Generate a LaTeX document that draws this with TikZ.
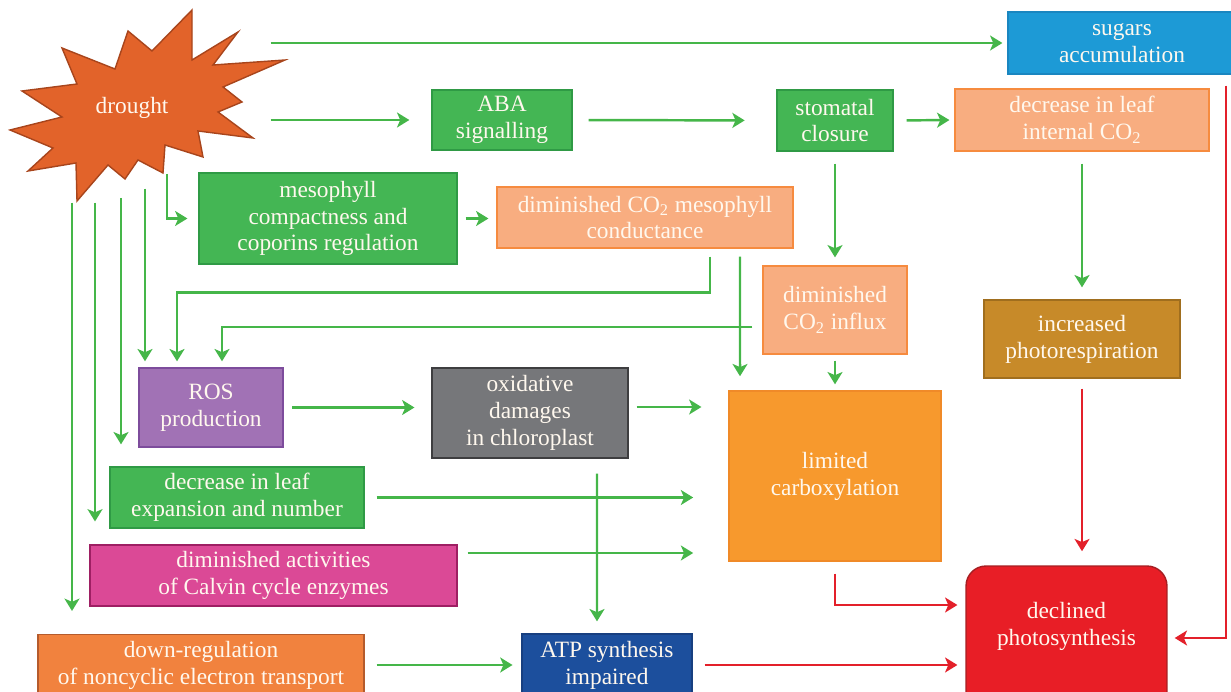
\documentclass[tikz,border=0pt]{standalone}
\usepackage{fontspec}
\setmainfont{Liberation Serif}
\usetikzlibrary{arrows.meta}

\definecolor{arrowgreen}{HTML}{45B649}
\definecolor{arrowred}{HTML}{E3202A}
\definecolor{leafgreen}{HTML}{44B654}
\definecolor{leafrim}{HTML}{2F9A45}
\definecolor{salmon}{HTML}{F8AD80}
\definecolor{salmonrim}{HTML}{F68B3F}
\definecolor{skyblue}{HTML}{1D9AD6}
\definecolor{skyrim}{HTML}{1A86C0}
\definecolor{ochre}{HTML}{C78A29}
\definecolor{ochrerim}{HTML}{A06E1E}
\definecolor{rospurple}{HTML}{A172B5}
\definecolor{rosrim}{HTML}{7D4C9C}
\definecolor{ashgray}{HTML}{76777A}
\definecolor{ashrim}{HTML}{3E3E40}
\definecolor{carbo}{HTML}{F7992D}
\definecolor{carborim}{HTML}{F08A28}
\definecolor{calvin}{HTML}{DB4996}
\definecolor{calvinrim}{HTML}{9E1F63}
\definecolor{downorange}{HTML}{F1823E}
\definecolor{downrim}{HTML}{B55B2C}
\definecolor{navy}{HTML}{1C4F9D}
\definecolor{navyrim}{HTML}{173F80}
\definecolor{declred}{HTML}{E81E26}
\definecolor{declrim}{HTML}{A61E22}
\definecolor{starorange}{HTML}{E2632A}
\definecolor{starrim}{HTML}{A8451C}
\definecolor{cream}{HTML}{FFF8EE}

\begin{document}
\begin{tikzpicture}[x=0.02cm, y=-0.02cm,
    box/.style={draw, line width=0.8pt, text=cream, align=center, inner sep=0pt,
        font=\fontsize{13.3}{15.3}\selectfont},
    greenbox/.style={box, fill=leafgreen, draw=leafrim},
    salmonbox/.style={box, fill=salmon, draw=salmonrim},
    garrow/.style={draw=arrowgreen, line width=1.4pt,
        -{Stealth[length=7pt,width=8.5pt,inset=1.8pt]}},
    rarrow/.style={garrow, draw=arrowred}]
    \useasboundingbox (0,0) rectangle (1231,692);

    % the drought star
    \draw[fill=starorange, draw=starrim, line width=0.8pt, line join=miter]
        (192,10) -- (192,60) -- (238,32) -- (213,65) -- (285,60) -- (223,87)
        -- (242,102) -- (218,112) -- (253,138) -- (198,131) -- (203,157)
        -- (165,145) -- (163,173) -- (138,160) -- (125,179) -- (108,165)
        -- (77,201) -- (76,163) -- (28,171) -- (53,148) -- (10,130) -- (62,117)
        -- (22,91) -- (77,84) -- (62,48) -- (115,69) -- (128,31) -- (152,51) -- cycle;
    \node[box, draw=none, minimum width=5.2cm, minimum height=3.76cm]
        (drought) at (140,108) {drought\hspace{9pt}};

    % Boxes
    \node[box, fill=skyblue, draw=skyrim, minimum width=4.56cm, minimum height=1.24cm]
        (sugars) at (1122,43) {sugars\\accumulation};
    \node[greenbox, minimum width=2.8cm, minimum height=1.2cm]
        (aba) at (502,120) {ABA\\signalling};
    \node[greenbox, minimum width=2.32cm, minimum height=1.22cm]
        (stomatal) at (835,120.5) {stomatal\\closure};
    \node[salmonbox, minimum width=5.08cm, minimum height=1.24cm]
        (leafco) at (1082,120) {decrease in leaf\\internal CO\textsubscript{2}};
    \node[greenbox, minimum width=5.16cm, minimum height=1.82cm]
        (meso) at (328,218.5) {mesophyll\\compactness and\\coporins regulation};
    \node[salmonbox, minimum width=5.92cm, minimum height=1.22cm]
        (mesocond) at (645,217.5) {diminished CO\textsubscript{2} mesophyll\\conductance};
    \node[salmonbox, minimum width=2.88cm, minimum height=1.76cm]
        (influx) at (835,310) {diminished\\CO\textsubscript{2} influx};
    \node[box, fill=ochre, draw=ochrerim, minimum width=3.92cm, minimum height=1.56cm]
        (photoresp) at (1082,339) {increased\\photorespiration};
    \node[box, fill=rospurple, draw=rosrim, minimum width=2.88cm, minimum height=1.58cm]
        (ros) at (211,407.5) {ROS\\production};
    \node[box, fill=ashgray, draw=ashrim, minimum width=3.92cm, minimum height=1.8cm]
        (oxid) at (530,413) {oxidative\\damages\\in chloroplast};
    \node[box, fill=carbo, draw=carborim, minimum width=4.24cm, minimum height=3.4cm]
        (limited) at (835,476) {limited\\carboxylation};
    \node[greenbox, minimum width=5.08cm, minimum height=1.22cm]
        (expansion) at (237,497.5) {decrease in leaf\\expansion and number};
    \node[box, fill=calvin, draw=calvinrim, minimum width=7.34cm, minimum height=1.22cm]
        (calvin) at (273.5,575.5) {diminished activities\\of Calvin cycle enzymes};
    \node[box, fill=downorange, draw=downrim, minimum width=6.52cm, minimum height=1.22cm]
        (downreg) at (201,665) {down-regulation\\of noncyclic electron transport};
    \node[box, fill=navy, draw=navyrim, minimum width=3.4cm, minimum height=1.24cm]
        (atp) at (607,665) {ATP synthesis\\impaired};
    \node[box, fill=declred, draw=declrim, rounded corners=0.4cm,
        minimum width=4.02cm, minimum height=3cm]
        (declined) at (1066.5,641) {declined\\photosynthesis\\\strut};

    % Green arrows from drought
    \draw[garrow, shorten >=2.8pt] (drought.east |- sugars.west) -- (sugars.west);
    \draw[garrow, shorten >=12.5pt] (drought.east |- aba.west) -- (aba.west);
    \draw[garrow, shorten <=-16.4pt, shorten >=6.2pt]
        (drought.south -| 167,0) |- (meso.west);
    \draw[garrow, shorten >=13pt] (drought.south -| 72,0) -- (downreg.north -| 72,0);
    \draw[garrow, shorten >=13pt] (drought.south -| 95,0) -- (calvin.north -| 95,0);
    \draw[garrow, shorten <=-2.8pt, shorten >=12.5pt]
        (drought.south -| 121,0) -- (expansion.north -| 121,0);
    \draw[garrow, shorten <=-8pt, shorten >=3.4pt]
        (drought.south -| 145,0) -- (ros.north -| 145,0);

    % Green arrows between boxes
    \draw[garrow, shorten <=9pt, shorten >=18pt] (aba.east) -- (stomatal.west);
    \draw[garrow, shorten <=7.4pt, shorten >=2.8pt] (stomatal.east) -- (leafco.west);
    \draw[garrow, shorten <=4.5pt, shorten >=4.5pt] (meso.east) -- (meso.east -| mesocond.west);
    \draw[garrow, shorten <=6.8pt, shorten >=4.5pt] (stomatal.south) -- (influx.north);
    \draw[garrow, shorten <=6.8pt, shorten >=6.8pt] (leafco.south) -- (photoresp.north);
    \draw[garrow, shorten <=4.5pt, shorten >=3.4pt]
        ([xshift=1.3cm]mesocond.south) -- ++(0,44) -| ([xshift=-0.68cm]ros.north);
    \draw[garrow, shorten >=3.4pt]
        ([xshift=-0.2cm, yshift=-0.34cm]influx.west) -| ([xshift=0.22cm]ros.north);
    \draw[garrow, shorten <=4.5pt, shorten >=8pt]
        ([xshift=1.9cm]mesocond.south) -- ([xshift=-1.9cm]limited.north);
    \draw[garrow, shorten <=3.4pt, shorten >=3.4pt] (influx.south) -- (limited.north);
    \draw[garrow, shorten <=5pt, shorten >=9.6pt] (ros.east) -- (ros.east -| oxid.west);
    \draw[garrow, shorten <=4.5pt, shorten >=15.3pt]
        ([yshift=0.12cm]oxid.east) -- ([yshift=0.12cm]oxid.east -| limited.west);
    \draw[garrow, shorten <=6.8pt, shorten >=20pt]
        (expansion.east) -- (expansion.east -| limited.west);
    \draw[garrow, shorten <=5.7pt, shorten >=20pt]
        ([yshift=0.45cm]calvin.east) -- ([yshift=0.45cm]calvin.east -| limited.west);
    \draw[garrow, shorten <=8.5pt, shorten >=6.8pt]
        ([xshift=1.34cm]oxid.south) -- ([xshift=-0.2cm]atp.north);
    \draw[garrow, shorten <=6.8pt, shorten >=5pt] (downreg.east) -- (downreg.east -| atp.west);

    % Red arrows to declined photosynthesis
    \draw[rarrow, shorten <=6.8pt, shorten >=4.5pt]
        (limited.south) |- ([yshift=0.72cm]declined.west);
    \draw[rarrow, shorten <=6.8pt, shorten >=4.5pt] (atp.east) -- (atp.east -| declined.west);
    \draw[rarrow, shorten <=5.7pt, shorten >=8pt]
        (photoresp.south) -- (photoresp.south |- declined.north);
    \draw[rarrow, shorten <=6.2pt, shorten >=4pt]
        ([xshift=2.08cm]sugars.south) |- ([yshift=0.06cm]declined.east);
\end{tikzpicture}
\end{document}
